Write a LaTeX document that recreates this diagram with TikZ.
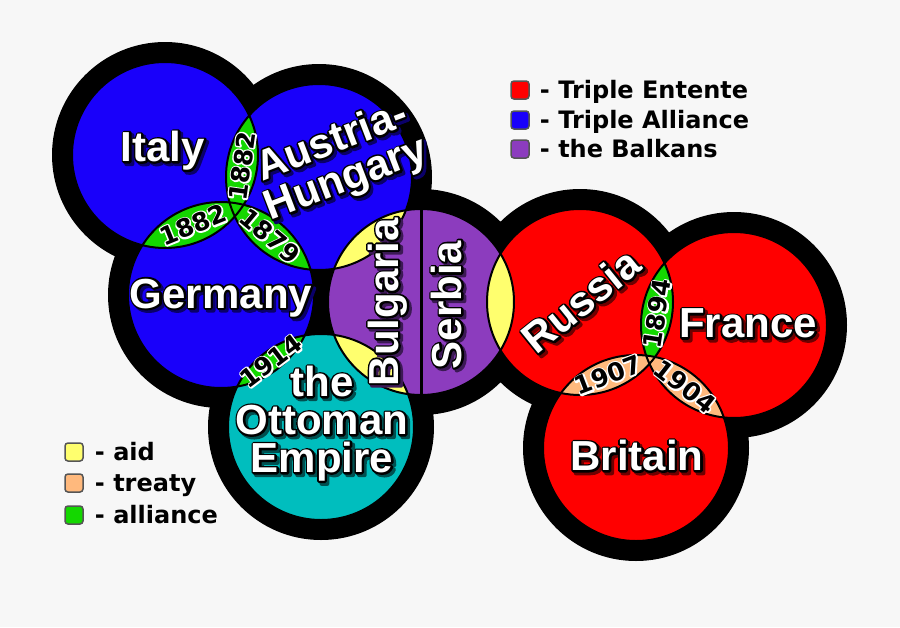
\documentclass[tikz,border=0pt]{standalone}
\usepackage{fontspec}
\setmainfont{Liberation Sans}
\newfontfamily\keyfont{DejaVu Sans}
\usetikzlibrary{positioning, calc}

\definecolor{allyblue}{RGB}{25, 0, 250}
\definecolor{ententered}{RGB}{255, 0, 0}
\definecolor{balkanpurple}{RGB}{140, 60, 190}
\definecolor{ottomanteal}{RGB}{0, 190, 190}
\definecolor{aidyellow}{RGB}{255, 255, 110}
\definecolor{treatypeach}{RGB}{255, 185, 125}
\definecolor{pactgreen}{RGB}{20, 215, 0}
\definecolor{bggray}{RGB}{247, 247, 247}
\definecolor{keygray}{RGB}{85, 85, 85}
\definecolor{allyshade}{RGB}{10, 0, 105}
\definecolor{ententeshade}{RGB}{110, 0, 0}
\definecolor{balkanshade}{RGB}{60, 25, 85}
\definecolor{ottomanshade}{RGB}{0, 80, 80}

\newcommand{\landr}{93pt}
\newcommand{\ringr}{113pt}
\newcommand{\shadowdx}{2.5pt}
\newcommand{\shadowdy}{-2.5pt}
% stroked copy of a text (pdf text render mode), #1 colour, #2 mode, #3 width, #4 text
\newcommand{\strokedcopy}[4]{\makebox[0pt][l]{\textcolor{#1}{\special{pdf:literal direct #2 Tr #3 w 1 j}#4\special{pdf:literal direct 0 Tr}}}}
% white name with black outline and a dark drop shadow
\newcommand{\landname}[2]{\raisebox{\shadowdy}{\hspace{\shadowdx}\strokedcopy{#1}{2}{4}{#2}}\hspace{-\shadowdx}\strokedcopy{black}{1}{3.8}{#2}\textcolor{white}{#2}}
% black year with white outline
\newcommand{\yearname}[1]{\strokedcopy{white}{1}{3}{#1}#1}

\tikzset{
  land/.style={draw=black, line width=2pt},
  landlabel/.style={font=\fontsize{42}{40}\selectfont\bfseries, align=center, inner sep=0pt},
  shadow shift/.code 2 args={\def\shadowdx{#1}\def\shadowdy{#2}},
  yearlabel/.style={font=\keyfont\fontsize{25}{25}\selectfont\bfseries, inner sep=0pt},
  swatch/.style={draw=keygray, line width=1.5pt, rounded corners=3pt, minimum size=18pt, inner sep=0pt},
  keytext/.style={font=\keyfont\fontsize{24}{24}\selectfont\bfseries, inner sep=0pt, text height=17pt, text depth=0pt, anchor=west}
}

\begin{document}
\begin{tikzpicture}[x=1pt, y=-1pt]
  \fill[bggray] (0,0) rectangle (900,627);
  \useasboundingbox (0,0) rectangle (900,627);

  % centres of the circles
  \coordinate (italy) at (165,155);
  \coordinate (austria) at (319,177);
  \coordinate (germany) at (221,295);
  \coordinate (balkans) at (421,302);
  \coordinate (ottoman) at (321,427);
  \coordinate (russia) at (580,302);
  \coordinate (france) at (734,325);
  \coordinate (britain) at (636,448);

  % black rings
  \fill[black] (italy) circle[radius=\ringr];
  \fill[black] (austria) circle[radius=\ringr];
  \fill[black] (germany) circle[radius=\ringr];
  \fill[black] (balkans) circle[radius=\ringr];
  \fill[black] (ottoman) circle[radius=\ringr];
  \fill[black] (russia) circle[radius=\ringr];
  \fill[black] (france) circle[radius=\ringr];
  \fill[black] (britain) circle[radius=\ringr];

  % countries
  \fill[allyblue] (italy) circle[radius=\landr];
  \fill[allyblue] (austria) circle[radius=\landr];
  \fill[allyblue] (germany) circle[radius=\landr];
  \fill[balkanpurple] (balkans) circle[radius=\landr];
  \fill[ottomanteal] (ottoman) circle[radius=\landr];
  \fill[ententered] (russia) circle[radius=\landr];
  \fill[ententered] (france) circle[radius=\landr];
  \fill[ententered] (britain) circle[radius=\landr];

  % overlaps
  \begin{scope}
    \clip (italy) circle[radius=\landr];
    \fill[pactgreen] (austria) circle[radius=\landr];
    \fill[pactgreen] (germany) circle[radius=\landr];
  \end{scope}
  \begin{scope}
    \clip (austria) circle[radius=\landr];
    \fill[pactgreen] (germany) circle[radius=\landr];
    \fill[aidyellow] (balkans) circle[radius=\landr];
  \end{scope}
  \begin{scope}
    \clip (ottoman) circle[radius=\landr];
    \fill[pactgreen] (germany) circle[radius=\landr];
    \fill[aidyellow] (balkans) circle[radius=\landr];
  \end{scope}
  \begin{scope}
    \clip (russia) circle[radius=\landr];
    \fill[aidyellow] (balkans) circle[radius=\landr];
    \fill[treatypeach] (britain) circle[radius=\landr];
    \fill[pactgreen] (france) circle[radius=\landr];
  \end{scope}
  \begin{scope}
    \clip (france) circle[radius=\landr];
    \fill[treatypeach] (britain) circle[radius=\landr];
  \end{scope}

  % outlines
  \draw[land] (italy) circle[radius=\landr];
  \draw[land] (austria) circle[radius=\landr];
  \draw[land] (germany) circle[radius=\landr];
  \draw[land] (balkans) circle[radius=\landr];
  \draw[land] (ottoman) circle[radius=\landr];
  \draw[land] (russia) circle[radius=\landr];
  \draw[land] (france) circle[radius=\landr];
  \draw[land] (britain) circle[radius=\landr];
  \draw[line width=3pt] (balkans) ++(0,-93) -- ++(0,186);

  % names
  \node[landlabel] (italylabel) at (163,152) {\landname{allyshade}{Italy}};
  \node[landlabel, rotate=21, shadow shift={1.4pt}{-3.2pt}] (austrialabel) at (340,163) {\landname{allyshade}{Austria-}\\\landname{allyshade}{Hungary}};
  \node[landlabel] (germanylabel) at (221,299) {\landname{allyshade}{Germany}};
  \node[landlabel, rotate=90, shadow shift={-2.5pt}{-2.5pt}] (bulgarialabel) at (389,302) {\landname{balkanshade}{Bulgaria}};
  \node[landlabel, rotate=90, shadow shift={-2.5pt}{-2.5pt}] (serbialabel) at (448,305) {\landname{balkanshade}{Serbia}};
  \node[landlabel, font=\fontsize{42}{38}\selectfont\bfseries] (ottomanlabel) at (322,425) {\landname{ottomanshade}{the}\\\landname{ottomanshade}{Ottoman}\\\landname{ottomanshade}{Empire}};
  \node[landlabel, rotate=39, shadow shift={0.4pt}{-3.5pt}] (russialabel) at (582,302) {\landname{ententeshade}{Russia}};
  \node[landlabel] (francelabel) at (748,325) {\landname{ententeshade}{France}};
  \node[landlabel] (britainlabel) at (637,457) {\landname{ententeshade}{Britain}};

  % years
  \node[yearlabel, rotate=82] (italyaustria) at ($(italy)!0.5!(austria)$) {\yearname{1882}};
  \node[yearlabel, rotate=22] (italygermany) at ($(italy)!0.5!(germany)$) {\yearname{1882}};
  \node[yearlabel, rotate=-40] (austriagermany) at ($(austria)!0.5!(germany)$) {\yearname{1879}};
  \node[yearlabel, rotate=37] (germanyottoman) at ($(germany)!0.5!(ottoman)$) {\yearname{1914}};
  \node[yearlabel, rotate=81] (russiafrance) at ($(russia)!0.5!(france)$) {\yearname{1894}};
  \node[yearlabel, rotate=21] (russiabritain) at ($(russia)!0.5!(britain)$) {\yearname{1907}};
  \node[yearlabel, rotate=-38] (francebritain) at ($(france)!0.5!(britain)$) {\yearname{1904}};

  % key: blocs
  \node[swatch, fill=ententered] (keyentente) at (520,90) {};
  \node[swatch, fill=allyblue] (keyalliance) at (520,120) {};
  \node[swatch, fill=balkanpurple] (keybalkans) at (520,149) {};
  \node[keytext, right=10pt of keyentente] (keyententetxt) {- Triple Entente};
  \node[keytext, right=10pt of keyalliance] (keyalliancetxt) {- Triple Alliance};
  \node[keytext, right=10pt of keybalkans] (keybalkanstxt) {- the Balkans};

  % key: links
  \node[swatch, fill=aidyellow] (keyaid) at (74,452) {};
  \node[swatch, fill=treatypeach] (keytreaty) at (74,483) {};
  \node[swatch, fill=pactgreen] (keypact) at (74,515) {};
  \node[keytext, right=11pt of keyaid] (keyaidtxt) {- aid};
  \node[keytext, right=11pt of keytreaty] (keytreatytxt) {- treaty};
  \node[keytext, right=11pt of keypact] (keypacttxt) {- alliance};
\end{tikzpicture}
\end{document}
